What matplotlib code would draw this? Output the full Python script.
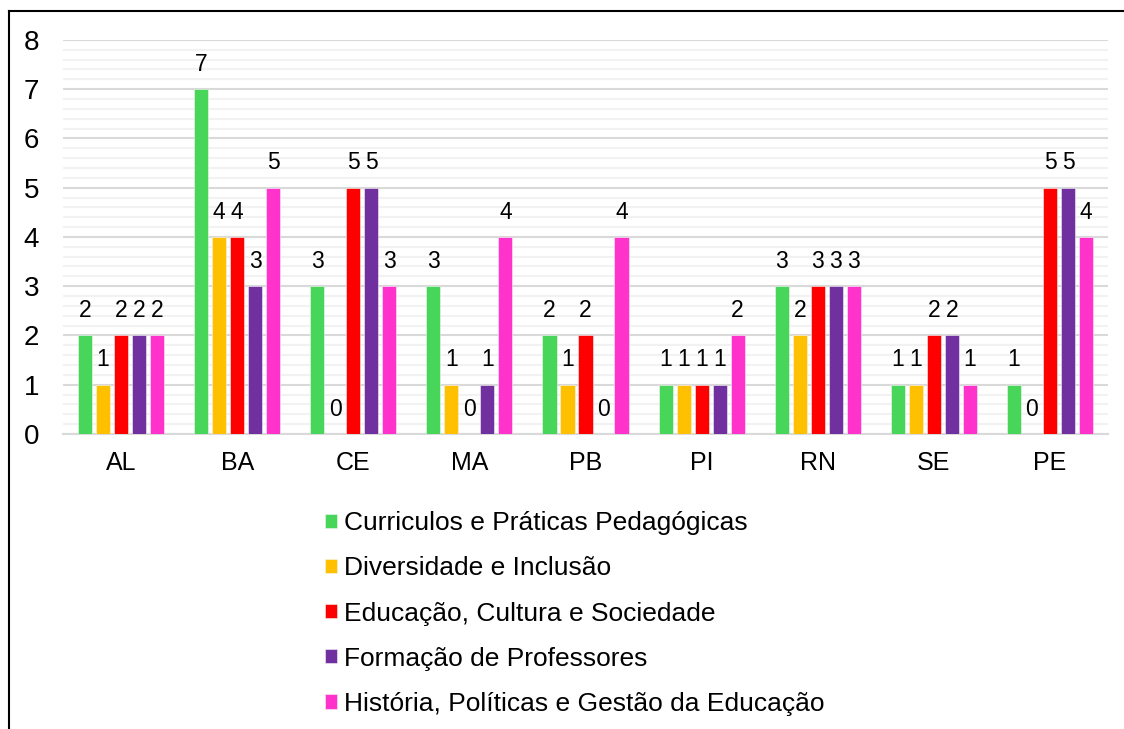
import numpy as np
import matplotlib.pyplot as plt
from matplotlib.lines import Line2D
from matplotlib.ticker import MultipleLocator

plt.rcParams['font.family'] = ['Liberation Sans', 'DejaVu Sans']

estados = ['AL', 'BA', 'CE', 'MA', 'PB', 'PI', 'RN', 'SE', 'PE']
series = ['Curriculos e Práticas Pedagógicas', 'Diversidade e Inclusão',
          'Educação, Cultura e Sociedade', 'Formação de Professores',
          'História, Políticas e Gestão da Educação']
curriculos = [2, 7, 3, 3, 2, 1, 3, 1, 1]
diversidade = [1, 4, 0, 1, 1, 1, 2, 1, 0]
educacao = [2, 4, 5, 0, 2, 1, 3, 2, 5]
formacao = [2, 3, 5, 1, 0, 1, 3, 2, 5]
historia = [2, 5, 3, 4, 4, 2, 3, 1, 4]

valores = [curriculos, diversidade, educacao, formacao, historia]
cores = ['#47D65A', '#FFC000', '#FF0000', '#7030A0', '#FF33CC']

fig = plt.figure(figsize=(11.24, 7.29), dpi=100)
ax = fig.add_axes([0.056, 0.4047, 0.9298, 0.5406])

x = np.arange(len(estados))
largura = 0.122
passo = 0.155
for i, (vals, cor, nome) in enumerate(zip(valores, cores, series)):
    pos = x + (i - 2) * passo
    barras = ax.bar(pos, vals, width=largura, color=cor, label=nome,
                    edgecolor='#F5F5F5', linewidth=0.4, zorder=3)
    for b, v in zip(barras, vals):
        ax.text(b.get_x() + b.get_width() / 2, v + 0.27, str(v),
                ha='center', va='bottom', fontsize=16.5)

ax.set_xlim(-0.5, len(estados) - 0.5)
ax.set_ylim(0, 8)
ax.yaxis.set_major_locator(MultipleLocator(1))
ax.yaxis.set_minor_locator(MultipleLocator(0.2))
ax.grid(axis='y', which='major', color='#D9D9D9', linewidth=1.5, zorder=0)
ax.grid(axis='y', which='minor', color='#F2F2F2', linewidth=1.5, zorder=0)
ax.set_axisbelow(True)

ax.set_xticks(x)
ax.set_xticklabels(estados, fontsize=18)
ax.tick_params(axis='x', length=0, pad=12)
ax.tick_params(axis='y', which='both', length=0, labelsize=20, pad=17)
for s in ['top', 'right', 'left']:
    ax.spines[s].set_visible(False)
ax.spines['bottom'].set_color('#D9D9D9')
ax.spines['bottom'].set_linewidth(1.5)

fig.legend(loc='upper left', bbox_to_anchor=(0.280, 0.313), frameon=False,
           fontsize=19, handlelength=0.45, handleheight=0.45,
           handletextpad=0.25, labelspacing=0.8, borderaxespad=0)

# moldura (só topo e esquerda visíveis)
fig.add_artist(Line2D([0.008, 1.0], [0.985, 0.985], color='black', linewidth=1.5))
fig.add_artist(Line2D([0.008, 0.008], [0.0, 0.985], color='black', linewidth=1.5))

fig.savefig('out.png', dpi=100)
